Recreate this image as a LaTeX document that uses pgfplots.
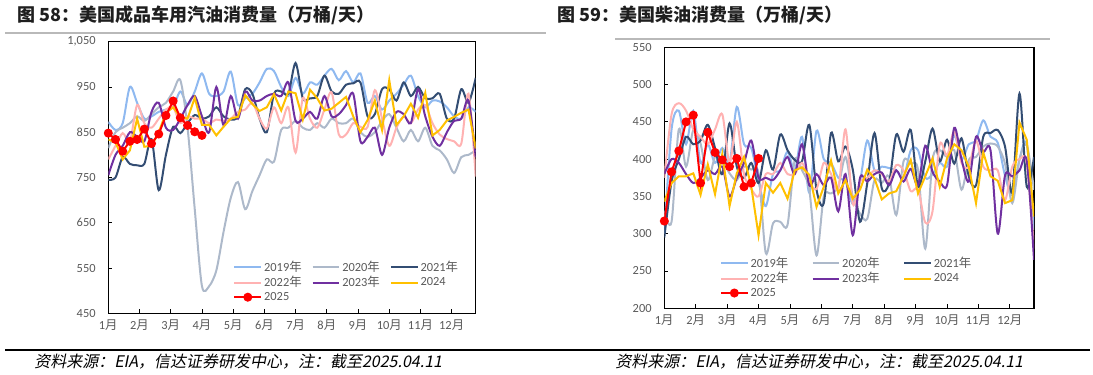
\documentclass[border=0pt]{standalone}
\usepackage{pgfplots}
\pgfplotsset{compat=1.18}
\usepackage{pgfplotstable}
\usepackage{fontspec}
\setmainfont{Carlito}
\newfontfamily\cjk{Noto Sans CJK SC}
\newfontfamily\cjkit[FakeSlant=0.2]{Noto Sans CJK SC}
\definecolor{c19}{RGB}{143,185,240}
\definecolor{c20}{RGB}{173,185,202}
\definecolor{c21}{RGB}{51,77,115}
\definecolor{c22}{RGB}{255,178,178}
\definecolor{c23}{RGB}{112,48,160}
\definecolor{c24}{RGB}{255,192,0}
\definecolor{c25}{RGB}{255,0,0}
\definecolor{tickc}{RGB}{89,89,89}
\definecolor{titlec}{RGB}{30,30,30}

\pgfplotstableread{
w a b c d e f g
0 873 815 745 790 755 834 848
1 855 850 750 820 800 828 834
2 870 860 795 848 820 790 808
3 950 870 780 830 850 810 830
4 915 885 777 910 840 880 834
5 880 875 780 870 830 818 857
6 885 890 835 860 895 820 825
7 895 905 722 880 915 850 846
8 900 915 800 900 860 893 887
9 905 940 862 905 855 905 919
10 940 965 848 870 880 884 882
11 910 860 870 885 910 880 865
12 940 680 888 880 930 926 851
13 980 510 880 880 885 866 843
14 935 510 885 870 850 866 nan
15 930 545 905 878 950 843 nan
16 940 630 885 875 865 862 nan
17 984 705 878 880 930 880 nan
18 910 740 885 895 880 884 nan
19 925 680 945 900 940 932 nan
20 935 720 935 915 920 912 nan
21 960 755 880 880 920 897 nan
22 990 790 850 858 930 905 nan
23 985 785 935 905 935 934 nan
24 950 855 940 870 930 898 nan
25 930 860 935 905 960 940 nan
26 970 875 1003 805 875 936 nan
27 935 860 925 925 880 878 nan
28 960 855 925 880 895 944 nan
29 955 870 930 860 880 925 nan
30 975 860 975 900 930 898 nan
31 990 880 940 938 885 902 nan
32 965 870 935 845 890 915 nan
33 985 870 955 845 910 928 nan
34 960 880 958 870 935 885 nan
35 980 850 960 862 830 850 nan
36 915 840 885 862 840 877 nan
37 930 850 890 943 860 920 nan
38 900 875 945 880 800 855 nan
39 920 890 945 820 860 965 nan
40 935 860 920 860 895 866 nan
41 955 830 960 885 890 885 nan
42 975 855 930 870 870 913 nan
43 930 830 950 900 945 882 nan
44 905 860 925 910 885 937 nan
45 920 820 925 870 840 843 nan
46 918 810 935 845 820 855 nan
47 905 790 880 835 850 876 nan
48 885 760 880 830 875 884 nan
49 880 795 945 825 880 893 nan
50 905 800 915 935 920 900 nan
51 895 810 970 752 795 814 nan
}\tabL

\pgfplotstableread{
w a b c d e f g
0 300 330 295 375 380 343 317
1 440 316 370 460 400 368 383
2 465 440 400 475 395 377 411
3 420 390 430 465 380 377 450
4 465 439 420 440 368 381 459
5 395 421 425 430 375 352 368
6 420 372 446 420 385 393 436
7 395 403 415 440 380 353 409
8 415 399 380 460 390 407 399
9 395 381 448 395 350 337 390
10 470 372 390 450 375 381 401
11 420 390 375 380 395 403 363
12 415 386 395 360 425 363 368
13 370 381 368 350 375 298 401
14 337 274 412 380 375 368 nan
15 380 314 386 380 372 355 nan
16 385 316 433 395 385 368 nan
17 410 312 412 380 403 347 nan
18 385 399 399 380 380 385 nan
19 430 385 397 395 420 389 nan
20 355 359 446 370 365 379 nan
21 438 271 359 360 380 336 nan
22 400 350 341 395 365 363 nan
23 395 354 435 380 375 398 nan
24 375 363 397 360 330 354 nan
25 370 403 417 440 380 372 nan
26 340 350 386 340 298 347 nan
27 370 327 316 370 375 359 nan
28 425 320 368 375 370 386 nan
29 385 372 435 385 380 374 nan
30 390 368 361 380 382 346 nan
31 388 377 368 370 365 354 nan
32 385 325 433 392 385 357 nan
33 375 397 410 385 370 377 nan
34 412 394 439 357 387 399 nan
35 412 386 363 360 365 354 nan
36 375 280 397 315 418 377 nan
37 380 399 441 330 383 401 nan
38 395 412 397 420 370 363 nan
39 390 403 426 405 365 401 nan
40 432 412 394 437 442 420 nan
41 400 359 428 395 400 412 nan
42 420 399 377 390 370 390 nan
43 425 403 365 425 430 341 nan
44 452 417 430 390 410 409 nan
45 430 421 435 385 412 377 nan
46 422 417 439 385 300 371 nan
47 378 394 417 345 378 341 nan
48 352 341 356 390 377 345 nan
49 400 399 488 400 385 449 nan
50 420 419 363 395 398 426 nan
51 305 359 403 280 265 323 nan
}\tabR

\pgfplotsset{
  mystyle/.style={
    scale only axis,
    xmin=0, xmax=51,
    axis line style={black, line width=0.9pt},
    xtick={0,4.333,8.667,13,17.333,21.667,26,30.333,34.667,39,43.333,47.667},
    xticklabels={{1{\cjk 月}},{2{\cjk 月}},{3{\cjk 月}},{4{\cjk 月}},{5{\cjk 月}},{6{\cjk 月}},{7{\cjk 月}},{8{\cjk 月}},{9{\cjk 月}},{10{\cjk 月}},{11{\cjk 月}},{12{\cjk 月}}},
    tick align=inside, xtick pos=bottom, ytick pos=left,
    major tick length=3pt,
    tick style={black, line width=0.6pt},
    ticklabel style={font=\fontsize{9.3}{10}\selectfont, text=tickc},
    yticklabel style={xshift=-6pt},
    xticklabel style={yshift=-1pt},
    /pgf/number format/assume math mode=true,
    /pgf/number format/1000 sep={,},
    legend columns=3, legend cell align=left,
    legend style={draw=none, fill=none, font=\fontsize{9.3}{10}\selectfont, text=tickc,
      inner sep=0pt, row sep=0pt, nodes={inner ysep=1.2pt, inner xsep=1.5pt}},
    legend image code/.code={\draw[mark repeat=2,mark phase=2,#1] plot coordinates {(0pt,0pt) (10pt,0pt) (20pt,0pt)};},
    every axis plot/.append style={line width=1.5pt},
  }
}

\begin{document}
\begin{tikzpicture}
\def\u{0.75pt}
\useasboundingbox (0,0) rectangle ({1093*\u},{375*\u});

% titles
\node[anchor=west, inner sep=0pt, text=titlec] at ({17*\u},{(375-15)*\u}) {\fontsize{13.5}{15}\selectfont\cjk\bfseries 图 58：美国成品车用汽油消费量（万桶/天）};
\node[anchor=west, inner sep=0pt, text=titlec] at ({557*\u},{(375-15)*\u}) {\fontsize{13.5}{15}\selectfont\cjk\bfseries 图 59：美国柴油消费量（万桶/天）};
\draw[gray!55, line width=0.8pt] ({5*\u},{(375-33)*\u}) -- ({546*\u},{(375-33)*\u});
\draw[gray!55, line width=0.8pt] ({615*\u},{(375-39)*\u}) -- ({1050*\u},{(375-39)*\u});

% bottom rule and sources
\draw[black, line width=0.8pt] ({5*\u},{(375-350)*\u}) -- ({1090*\u},{(375-350)*\u});
\node[anchor=west, inner sep=0pt] at ({34*\u},{(375-362)*\u}) {\fontsize{12}{13}\selectfont\cjkit 资料来源：EIA，信达证券研发中心，注：截至2025.04.11};
\node[anchor=west, inner sep=0pt] at ({615*\u},{(375-362)*\u}) {\fontsize{12}{13}\selectfont\cjkit 资料来源：EIA，信达证券研发中心，注：截至2025.04.11};

% left axis
\begin{axis}[mystyle,
  at={({108.3*\u},{(375-313.3)*\u})}, anchor=south west,
  width={367.4*\u}, height={271.6*\u},
  ymin=450, ymax=1050, ytick={450,550,...,1050},
  legend style={at={(0.34,0.2)}, anchor=north west,
    /tikz/every even column/.append style={column sep=6pt}},
]
\addplot[c19, smooth] table[x=w,y=a]{\tabL}; \addlegendentry{2019{\cjk 年}}
\addplot[c20, smooth] table[x=w,y=b]{\tabL}; \addlegendentry{2020{\cjk 年}}
\addplot[c21, smooth] table[x=w,y=c]{\tabL}; \addlegendentry{2021{\cjk 年}}
\addplot[c22, smooth] table[x=w,y=d]{\tabL}; \addlegendentry{2022{\cjk 年}}
\addplot[c23, smooth] table[x=w,y=e]{\tabL}; \addlegendentry{2023{\cjk 年}}
\addplot[c24] table[x=w,y=f]{\tabL}; \addlegendentry{2024}
\addplot[c25, mark=*, mark size=2.6pt, mark options={solid, fill=c25}] table[x=w,y=g]{\tabL}; \addlegendentry{2025}
\end{axis}

% right axis
\begin{axis}[mystyle,
  at={({664.3*\u},{(375-308.3)*\u})}, anchor=south west,
  width={369.7*\u}, height={261*\u},
  ymin=200, ymax=550, ytick={200,250,...,550},
  legend style={at={(0.15,0.205)}, anchor=north west,
    /tikz/every even column/.append style={column sep=16pt}},
]
\addplot[c19, smooth] table[x=w,y=a]{\tabR}; \addlegendentry{2019{\cjk 年}}
\addplot[c20, smooth] table[x=w,y=b]{\tabR}; \addlegendentry{2020{\cjk 年}}
\addplot[c21, smooth] table[x=w,y=c]{\tabR}; \addlegendentry{2021{\cjk 年}}
\addplot[c22, smooth] table[x=w,y=d]{\tabR}; \addlegendentry{2022{\cjk 年}}
\addplot[c23, smooth] table[x=w,y=e]{\tabR}; \addlegendentry{2023{\cjk 年}}
\addplot[c24] table[x=w,y=f]{\tabR}; \addlegendentry{2024}
\addplot[c25, mark=*, mark size=2.6pt, mark options={solid, fill=c25}] table[x=w,y=g]{\tabR}; \addlegendentry{2025}
\end{axis}
\end{tikzpicture}
\end{document}
